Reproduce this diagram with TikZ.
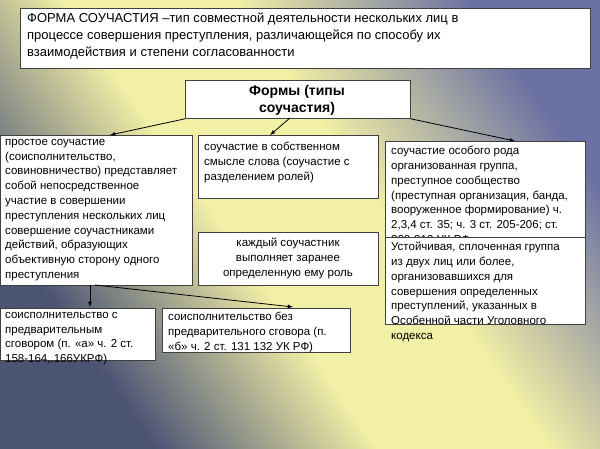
\documentclass[tikz,border=0pt]{standalone}
\usepackage{fontspec}
\setmainfont{Liberation Sans}
\definecolor{bgblue}{HTML}{6A70A2}
\definecolor{bgyel}{HTML}{F2EFA6}
\definecolor{bgdark}{HTML}{4C5474}
\pgfdeclarehorizontalshading{bgsh}{100bp}{color(0bp)=(bgdark); color(27bp)=(bgdark); color(44bp)=(bgyel); color(57bp)=(bgyel); color(75bp)=(bgblue); color(100bp)=(bgblue)}
\begin{document}
\begin{tikzpicture}[x=1pt,y=-1pt,
  bx/.style={draw=black!75,fill=white,line width=0.8pt},
  tx/.style={anchor=north west,align=left,inner sep=0pt,font=\fontsize{11.5}{14.8}\selectfont},
  ar/.style={-latex,line width=0.8pt}]
\shade[shading=bgsh,shading angle=35] (0,0) rectangle (600,448);
\useasboundingbox (0,0) rectangle (600,448);
% title
\node[bx,minimum width=570,minimum height=60,anchor=north west] (title) at (20,8) {};
\node[tx,font=\fontsize{13}{17}\selectfont] (tt) at (27,13) {ФОРМА СОУЧАСТИЯ –тип совместной деятельности нескольких лиц в\\процессе совершения преступления, различающейся по способу их\\взаимодействия и степени согласованности};
% forms
\node[bx,minimum width=225,minimum height=38,anchor=north west] (forms) at (185,80) {};
\node[anchor=north,align=center,inner sep=0pt,font=\bfseries\fontsize{14}{17}\selectfont] (ft) at (297,85) {Формы (типы\\соучастия)};
% boxes
\node[bx,minimum width=192,minimum height=150,anchor=north west] (left) at (0,135) {};
\node[tx] at (5,139) {простое соучастие\\(соисполнительство,\\совиновничество) представляет\\собой непосредственное\\участие в совершении\\преступления нескольких лиц\\совершение соучастниками\\действий, образующих\\объективную сторону одного\\преступления};
\node[bx,minimum width=180,minimum height=63,anchor=north west] (mid) at (198,135) {};
\node[tx] at (204,142) {соучастие в собственном\\смысле слова (соучастие с\\разделением ролей)};
\node[bx,minimum width=180,minimum height=53,anchor=north west] (mid2) at (198,232) {};
\node[anchor=north,align=center,inner sep=0pt,font=\fontsize{11.5}{14.8}\selectfont] at (288,238) {каждый соучастник\\выполняет заранее\\определенную ему роль};
\node[bx,minimum width=200,minimum height=97,anchor=north west] (right) at (385,141) {};
\node[tx] at (391,146) {соучастие особого рода\\организованная группа,\\преступное сообщество\\(преступная организация, банда,\\вооруженное формирование) ч.\\2,3,4 ст. 35; ч. 3 ст. 205-206; ст.\\208-210 УК РФ};
\node[bx,minimum width=200,minimum height=87,anchor=north west] (right2) at (385,237) {};
\node[tx] at (391,242) {Устойчивая, сплоченная группа\\из двух лиц или более,\\организовавшихся для\\совершения определенных\\преступлений, указанных в\\Особенной части Уголовного\\кодекса};
\node[bx,minimum width=155,minimum height=52,anchor=north west] (bl) at (0,308) {};
\node[tx] at (5,312) {соисполнительство с\\предварительным\\сговором (п. «а» ч. 2 ст.\\158-164,.166УКРФ)};
\node[bx,minimum width=188,minimum height=44,anchor=north west] (bm) at (162,308) {};
\node[tx] at (168,312) {соисполнительство без\\предварительного сговора (п.\\«б» ч. 2 ст. 131 132 УК РФ)};
% arrows
\draw[ar] (forms.south west) -- (110,135);
\draw[ar] (290,118) -- (270,135);
\draw[ar] (forms.south east) -- (515,141);
\draw[ar] (90,285) -- (90,307);
\draw[ar] (95,285) -- (293,307);
\end{tikzpicture}
\end{document}
